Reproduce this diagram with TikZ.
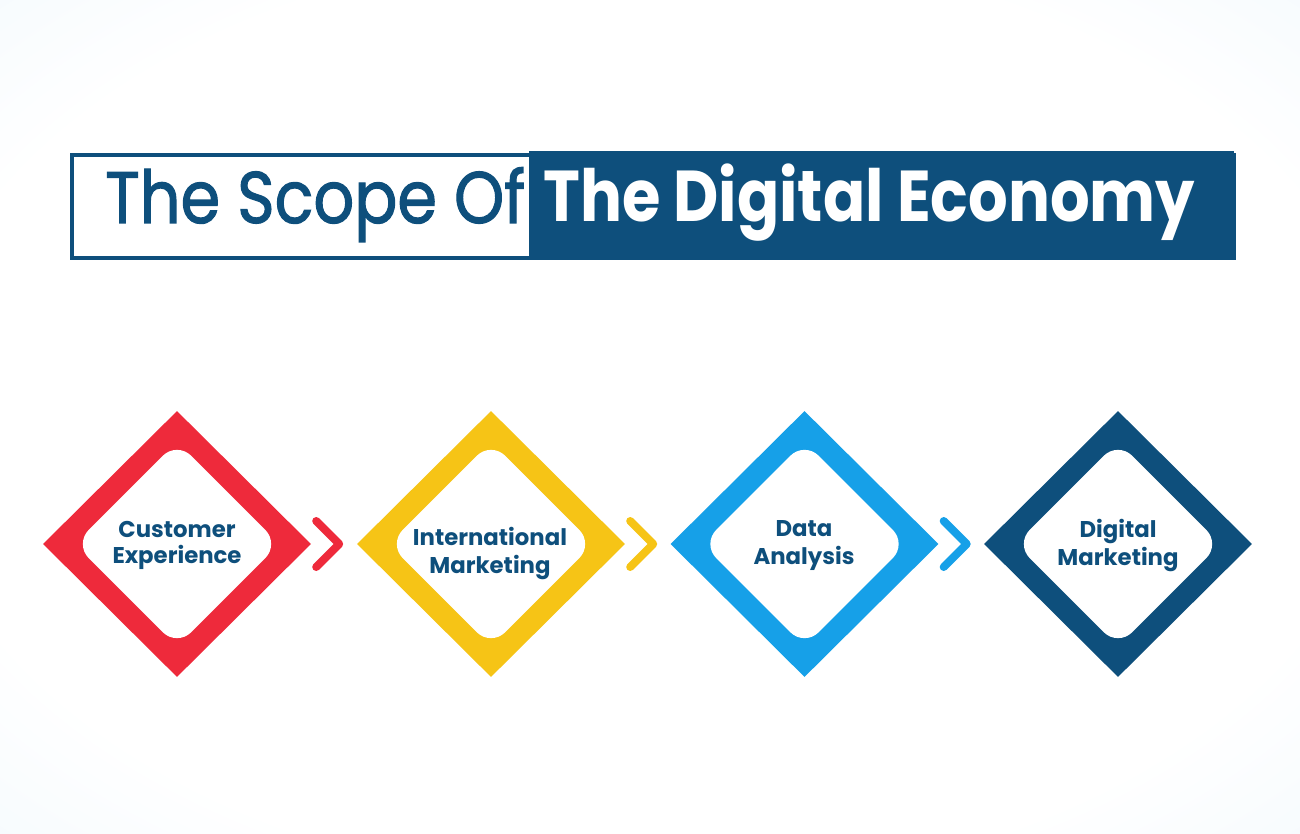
\documentclass[tikz,border=0pt]{standalone}
\usepackage{fontspec}
\setmainfont{Poppins}
\newfontfamily\popreg{Poppins}[FakeBold=1.6]
\usetikzlibrary{shapes.geometric}
\definecolor{navy}{HTML}{0E4F7C}
\definecolor{cred}{HTML}{EE2A3B}
\definecolor{cyel}{HTML}{F6C416}
\definecolor{cblu}{HTML}{16A0E8}
\definecolor{bgmid}{HTML}{F0F8FD}
\definecolor{bglt}{HTML}{E4F2FB}
\definecolor{bgcorner}{HTML}{D8EEF9}
\pgfdeclareradialshading{bgshade}{\pgfpoint{0bp}{0bp}}{color(0bp)=(white); color(28bp)=(white); color(42bp)=(bgmid); color(56bp)=(bglt); color(71bp)=(bgcorner)}
\begin{document}
\begin{tikzpicture}[x=1pt,y=-1pt,
  outerd/.style={diamond, minimum width=268pt, minimum height=266pt, inner sep=0pt},
  innerd/.style={diamond, fill=white, rounded corners=20pt, minimum width=205pt, minimum height=205pt, inner sep=0pt},
  lab/.style={font=\bfseries\fontsize{22.8}{28}\selectfont, text=navy, anchor=base, inner sep=0pt},
  chev/.style={line width=8pt, line cap=round, line join=round}]
\useasboundingbox (0,0) rectangle (1300,834);
\shade[shading=bgshade] (0,0) rectangle (1300,834);
% title box
\node[draw=navy, line width=4pt, fill=white, minimum width=1162pt, minimum height=103pt, inner sep=0pt, anchor=north west] (box) at (69.5,153.5) {};
\fill[navy] (529,151.5) rectangle (1233.5,258.5);
\node[anchor=base west, inner sep=0pt, text=navy] (tA) at (105,223) {\resizebox{420pt}{\height}{\popreg\fontsize{73}{80}\selectfont The Scope Of}};
\node[anchor=base west, inner sep=0pt, text=white] (tB) at (543,222) {\resizebox{652pt}{\height}{\bfseries\fontsize{72}{80}\selectfont The Digital Economy}};
% diamonds
\node[outerd, fill=cred] (d1) at (177,544) {};
\node[outerd, fill=cyel] (d2) at (491,544) {};
\node[outerd, fill=cblu] (d3) at (804.5,544) {};
\node[outerd, fill=navy] (d4) at (1118,544) {};
\node[innerd] (i1) at (d1.center) {};
\node[innerd] (i2) at (d2.center) {};
\node[innerd] (i3) at (d3.center) {};
\node[innerd] (i4) at (d4.center) {};
% labels
\node[lab] (l1a) at (177,537) {Customer};
\node[lab] (l1b) at (177,563.5) {Experience};
\node[lab] (l2a) at (490,545) {International};
\node[lab] (l2b) at (490,573) {Marketing};
\node[lab] (l3a) at (804,536) {Data};
\node[lab] (l3b) at (804,564) {Analysis};
\node[lab] (l4a) at (1118,537) {Digital};
\node[lab] (l4b) at (1118,565.5) {Marketing};
% chevrons
\draw[chev, cred] ([shift={(5,-23)}]d1.east) -- ([shift={(28,0)}]d1.east) -- ([shift={(5,23)}]d1.east);
\draw[chev, cyel] ([shift={(5,-23)}]d2.east) -- ([shift={(28,0)}]d2.east) -- ([shift={(5,23)}]d2.east);
\draw[chev, cblu] ([shift={(5,-23)}]d3.east) -- ([shift={(28,0)}]d3.east) -- ([shift={(5,23)}]d3.east);
\end{tikzpicture}
\end{document}
